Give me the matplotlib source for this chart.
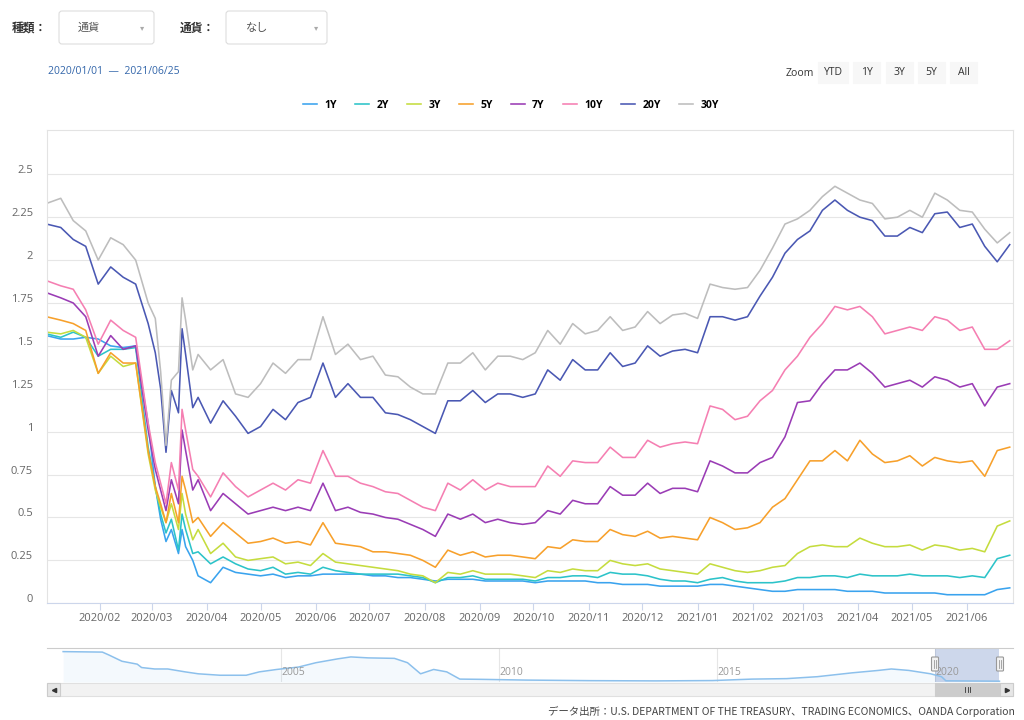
import pandas as pd
import matplotlib
matplotlib.use("Agg")
import matplotlib.pyplot as plt
import matplotlib.dates as mdates
from matplotlib.patches import Rectangle, FancyBboxPatch
from matplotlib.transforms import ScaledTranslation

plt.rcParams['font.family'] = ['Open Sans', 'Noto Sans CJK JP', 'DejaVu Sans']

# ---- data ----
# Jan-Mar 2020 a bit denser because of the March crash, then weekly Fridays
early_dates = ['2020-01-02', '2020-01-10', '2020-01-17', '2020-01-24', '2020-01-31',
               '2020-02-07', '2020-02-14', '2020-02-21', '2020-02-28', '2020-03-03',
               '2020-03-06', '2020-03-09', '2020-03-12', '2020-03-16', '2020-03-18',
               '2020-03-20', '2020-03-24', '2020-03-27']
dates = pd.to_datetime(early_dates).append(pd.date_range('2020-04-03', '2021-06-25', freq='W-FRI'))

y30 = [2.33, 2.36, 2.23, 2.17, 2.00, 2.13, 2.09, 2.00, 1.75, 1.66, 1.35, 0.92, 1.30, 1.35, 1.78, 1.65, 1.36, 1.45,
       1.36, 1.42, 1.22, 1.20, 1.28, 1.40, 1.34, 1.42, 1.42, 1.67, 1.45, 1.51, 1.42, 1.44, 1.33, 1.32, 1.26, 1.22,
       1.22, 1.40, 1.40, 1.46, 1.36, 1.44, 1.44, 1.42, 1.46, 1.59, 1.51, 1.63, 1.57, 1.59, 1.67, 1.59, 1.61, 1.70,
       1.63, 1.68, 1.69,
       1.66, 1.86, 1.84, 1.83, 1.84, 1.94, 2.07, 2.21, 2.24, 2.29, 2.37, 2.43, 2.39, 2.35, 2.33, 2.24, 2.25, 2.29,
       2.25, 2.39, 2.35, 2.29, 2.28, 2.18, 2.10, 2.16]
y20 = [2.21, 2.19, 2.12, 2.08, 1.86, 1.96, 1.90, 1.86, 1.63, 1.46, 1.25, 0.88, 1.24, 1.11, 1.60, 1.45, 1.14, 1.20,
       1.05, 1.18, 1.09, 0.99, 1.03, 1.13, 1.07, 1.17, 1.20, 1.40, 1.20, 1.28, 1.20, 1.20, 1.11, 1.10, 1.07, 1.03,
       0.99, 1.18, 1.18, 1.24, 1.17, 1.22, 1.22, 1.20, 1.22, 1.36, 1.30, 1.42, 1.36, 1.36, 1.46, 1.38, 1.40, 1.50,
       1.44, 1.47, 1.48,
       1.46, 1.67, 1.67, 1.65, 1.67, 1.79, 1.90, 2.04, 2.12, 2.17, 2.29, 2.35, 2.29, 2.25, 2.23, 2.14, 2.14, 2.19,
       2.16, 2.27, 2.28, 2.19, 2.21, 2.08, 1.99, 2.09]
y10 = [1.88, 1.85, 1.83, 1.71, 1.51, 1.65, 1.59, 1.55, 1.05, 0.82, 0.70, 0.58, 0.82, 0.66, 1.13, 1.01, 0.78, 0.74,
       0.62, 0.76, 0.68, 0.62, 0.66, 0.70, 0.66, 0.72, 0.70, 0.89, 0.74, 0.74, 0.70, 0.68, 0.65, 0.64, 0.60, 0.56,
       0.54, 0.70, 0.66, 0.72, 0.66, 0.70, 0.68, 0.68, 0.68, 0.80, 0.74, 0.83, 0.82, 0.82, 0.91, 0.85, 0.85, 0.95,
       0.91, 0.93, 0.94,
       0.93, 1.15, 1.13, 1.07, 1.09, 1.18, 1.24, 1.36, 1.44, 1.55, 1.63, 1.73, 1.71, 1.73, 1.67, 1.57, 1.59, 1.61,
       1.59, 1.67, 1.65, 1.59, 1.61, 1.48, 1.48, 1.53]
y7 = [1.81, 1.78, 1.75, 1.67, 1.44, 1.56, 1.48, 1.50, 1.01, 0.78, 0.66, 0.54, 0.72, 0.58, 1.01, 0.89, 0.66, 0.72,
      0.54, 0.64, 0.58, 0.52, 0.54, 0.56, 0.54, 0.56, 0.54, 0.70, 0.54, 0.56, 0.53, 0.52, 0.50, 0.49, 0.46, 0.43,
      0.39, 0.52, 0.49, 0.52, 0.47, 0.49, 0.47, 0.46, 0.47, 0.54, 0.52, 0.60, 0.58, 0.58, 0.68, 0.63, 0.63, 0.70,
      0.64, 0.67, 0.67,
      0.65, 0.83, 0.80, 0.76, 0.76, 0.82, 0.85, 0.97, 1.17, 1.18, 1.28, 1.36, 1.36, 1.40, 1.34, 1.26, 1.28, 1.30,
      1.26, 1.32, 1.30, 1.26, 1.28, 1.15, 1.26, 1.28]
y5 = [1.67, 1.65, 1.63, 1.59, 1.34, 1.46, 1.40, 1.40, 0.89, 0.68, 0.58, 0.47, 0.64, 0.47, 0.74, 0.66, 0.47, 0.50,
      0.39, 0.47, 0.41, 0.35, 0.36, 0.38, 0.35, 0.36, 0.34, 0.47, 0.35, 0.34, 0.33, 0.30, 0.30, 0.29, 0.28, 0.25,
      0.21, 0.31, 0.28, 0.30, 0.27, 0.28, 0.28, 0.27, 0.26, 0.33, 0.32, 0.37, 0.36, 0.36, 0.43, 0.40, 0.39, 0.42,
      0.38, 0.39, 0.38,
      0.37, 0.50, 0.47, 0.43, 0.44, 0.47, 0.56, 0.61, 0.72, 0.83, 0.83, 0.89, 0.83, 0.95, 0.87, 0.82, 0.83, 0.86,
      0.80, 0.85, 0.83, 0.82, 0.83, 0.74, 0.89, 0.91]
y3 = [1.58, 1.57, 1.59, 1.55, 1.34, 1.44, 1.38, 1.40, 0.87, 0.66, 0.56, 0.47, 0.58, 0.43, 0.64, 0.52, 0.37, 0.43,
      0.29, 0.35, 0.27, 0.25, 0.26, 0.27, 0.23, 0.24, 0.22, 0.29, 0.24, 0.23, 0.22, 0.21, 0.20, 0.19, 0.17, 0.16,
      0.12, 0.18, 0.17, 0.19, 0.17, 0.17, 0.17, 0.16, 0.15, 0.19, 0.18, 0.20, 0.19, 0.19, 0.25, 0.23, 0.22, 0.23,
      0.20, 0.19, 0.18,
      0.17, 0.23, 0.21, 0.19, 0.18, 0.19, 0.21, 0.22, 0.29, 0.33, 0.34, 0.33, 0.33, 0.38, 0.35, 0.33, 0.33, 0.34,
      0.31, 0.34, 0.33, 0.31, 0.32, 0.30, 0.45, 0.48]
y2 = [1.57, 1.55, 1.58, 1.55, 1.44, 1.48, 1.48, 1.49, 0.91, 0.68, 0.52, 0.41, 0.49, 0.31, 0.52, 0.43, 0.29, 0.30,
      0.23, 0.27, 0.23, 0.20, 0.19, 0.21, 0.17, 0.18, 0.17, 0.21, 0.19, 0.18, 0.17, 0.17, 0.17, 0.17, 0.16, 0.15,
      0.12, 0.15, 0.15, 0.16, 0.14, 0.14, 0.14, 0.14, 0.13, 0.15, 0.15, 0.16, 0.16, 0.15, 0.18, 0.17, 0.17, 0.16,
      0.14, 0.13, 0.13,
      0.12, 0.14, 0.15, 0.13, 0.12, 0.12, 0.12, 0.13, 0.15, 0.15, 0.16, 0.16, 0.15, 0.17, 0.16, 0.16, 0.16, 0.17,
      0.16, 0.16, 0.16, 0.15, 0.16, 0.15, 0.26, 0.28]
y1 = [1.56, 1.54, 1.54, 1.55, 1.54, 1.50, 1.49, 1.50, 1.05, 0.68, 0.49, 0.36, 0.43, 0.29, 0.43, 0.33, 0.25, 0.16,
      0.12, 0.21, 0.18, 0.17, 0.16, 0.17, 0.15, 0.16, 0.16, 0.17, 0.17, 0.17, 0.17, 0.16, 0.16, 0.15, 0.15, 0.14,
      0.13, 0.14, 0.14, 0.14, 0.13, 0.13, 0.13, 0.13, 0.12, 0.13, 0.13, 0.13, 0.13, 0.12, 0.12, 0.11, 0.11, 0.11,
      0.10, 0.10, 0.10,
      0.10, 0.11, 0.11, 0.10, 0.09, 0.08, 0.07, 0.07, 0.08, 0.08, 0.08, 0.08, 0.07, 0.07, 0.07, 0.06, 0.06, 0.06,
      0.06, 0.06, 0.05, 0.05, 0.05, 0.05, 0.08, 0.09]

names = ['1Y', '2Y', '3Y', '5Y', '7Y', '10Y', '20Y', '30Y']
series = [y1, y2, y3, y5, y7, y10, y20, y30]
colors = ['#3aa3ee', '#2cc3c9', '#c5dc3e', '#f7a02b', '#9a3cb5', '#f57fb2', '#4a58b3', '#bdbdbd']

# navigator (long history of 1Y)
nav_years = [2000.0, 2000.9, 2001.05, 2001.35, 2001.7, 2001.8, 2002.1, 2002.4, 2002.8, 2003.1, 2003.6,
             2004.2, 2004.5, 2004.9, 2005.4, 2005.8, 2006.3, 2006.6, 2007.0, 2007.6, 2007.9, 2008.2,
             2008.5, 2008.8, 2009.1, 2009.6, 2010.6, 2012.1, 2013.6, 2014.9, 2015.8, 2016.6, 2017.3,
             2018.1, 2018.7, 2019.0, 2019.4, 2019.9, 2020.15, 2020.25, 2021.48]
nav_1y = [6.2, 6.1, 5.5, 4.2, 3.6, 2.9, 2.6, 2.6, 2.0, 1.6, 1.3,
          1.3, 2.0, 2.5, 3.0, 3.9, 4.7, 5.1, 4.9, 4.8, 3.9, 1.6,
          2.5, 2.0, 0.5, 0.45, 0.3, 0.18, 0.13, 0.2, 0.5, 0.6, 1.0,
          1.8, 2.3, 2.6, 2.3, 1.6, 1.0, 0.15, 0.07]
nav_ticks = [2005, 2010, 2015, 2020]

W, H = 1024, 720
fig = plt.figure(figsize=(W / 100, H / 100), dpi=100)
fig.patch.set_facecolor('white')


def px_box(x0, y0, x1, y1):
    return [x0 / W, 1 - y1 / H, (x1 - x0) / W, (y1 - y0) / H]


# ---- main chart ----
ax = fig.add_axes(px_box(47, 130, 1013, 603.3))
handles = []
for name, vals, c in zip(names, series, colors):
    ln, = ax.plot(dates, vals, color=c, lw=1.15, label=name)
    handles.append(ln)

ax.set_xlim(pd.Timestamp('2020-01-02 07:00'), pd.Timestamp('2021-06-26 20:00'))
ax.set_ylim(0, 2.758)
yt = [0, 0.25, 0.5, 0.75, 1, 1.25, 1.5, 1.75, 2, 2.25, 2.5]
ax.set_yticks(yt)
ax.set_yticklabels(['0', '0.25', '0.5', '0.75', '1', '1.25', '1.5', '1.75', '2', '2.25', '2.5'])
ax.yaxis.grid(True, color='#e6e6e6', lw=0.8)
ax.set_axisbelow(True)
ax.xaxis.set_major_locator(mdates.MonthLocator())
ax.xaxis.set_major_formatter(mdates.DateFormatter('%Y/%m'))
ax.tick_params(axis='y', length=0, pad=10, labelsize=8, labelcolor='#666666')
ax.tick_params(axis='x', length=5, width=0.8, color='#ccd6eb', pad=2, labelsize=8, labelcolor='#666666')
for lab in ax.get_yticklabels():
    lab.set_transform(lab.get_transform() + ScaledTranslation(0, 0.05, fig.dpi_scale_trans))
for side in ['left', 'top', 'right']:
    ax.spines[side].set_color('#e3e3e3')
    ax.spines[side].set_linewidth(0.8)
ax.spines['bottom'].set_color('#ccd6eb')

fig.legend(handles, names, loc='center', bbox_to_anchor=(511 / W, 1 - 105 / H), ncol=8,
           frameon=False, handlelength=1.3, handletextpad=0.7, columnspacing=1.8,
           prop={'weight': 'bold', 'size': 7.5})

# ---- navigator ----
nav = fig.add_axes(px_box(47, 648, 1013, 682))
nav.plot(nav_years, nav_1y, color='#8cc0ec', lw=1.1)
nav.fill_between(nav_years, nav_1y, -0.1, color='#7cb5ec', alpha=0.08, lw=0)
nav.set_xlim(1999.63, 2021.79)
nav.set_ylim(-0.1, 6.95)
nav.axvspan(2020.0, 2021.48, color='#6685c2', alpha=0.32, lw=0)
for yr in nav_ticks:
    nav.axvline(yr, color='#e6e6e6', lw=0.8, zorder=0)
    nav.text(yr, 0.12, str(yr), transform=nav.get_xaxis_transform(), fontsize=7.5, color='#999999',
             ha='left', va='bottom')
nav.set_xticks([])
nav.set_yticks([])
for side in ['left', 'right', 'bottom']:
    nav.spines[side].set_visible(False)
nav.spines['top'].set_color('#cccccc')

# ---- page furniture (pixel coordinates) ----
ov = fig.add_axes([0, 0, 1, 1])
ov.set_xlim(0, W)
ov.set_ylim(H, 0)
ov.axis('off')
ov.patch.set_alpha(0)


def box(x, y, w, h, fc, ec, r=0):
    if r:
        p = FancyBboxPatch((x, y), w, h, boxstyle='round,pad=0,rounding_size=%g' % r, fc=fc, ec=ec, lw=0.8)
    else:
        p = Rectangle((x, y), w, h, fc=fc, ec=ec, lw=0.8)
    ov.add_patch(p)


ov.text(12, 28, '種類：', fontsize=8.5, weight='bold', color='#333333', va='center')
box(59, 11, 95, 33, 'white', '#dddddd', 3)
ov.text(78, 28, '通貨', fontsize=8, color='#555555', va='center')
ov.text(140, 28, '▾', fontsize=6, color='#aaaaaa', va='center', family='DejaVu Sans')
ov.text(180, 28, '通貨：', fontsize=8.5, weight='bold', color='#333333', va='center')
box(226, 11, 101, 33, 'white', '#dddddd', 3)
ov.text(246, 28, 'なし', fontsize=8, color='#555555', va='center')
ov.text(314, 28, '▾', fontsize=6, color='#aaaaaa', va='center', family='DejaVu Sans')

ov.text(48, 72, '2020/01/01  —  2021/06/25', fontsize=7.5, color='#3366aa', va='center')

ov.text(786, 73, 'Zoom', fontsize=7.5, color='#333333', va='center')
zoom_btns = [('YTD', 818, 30), ('1Y', 853, 27), ('3Y', 886, 27), ('5Y', 918, 27), ('All', 950, 27)]
for lbl, bx, bw in zoom_btns:
    box(bx, 62, bw, 21, '#f7f7f7', '#f7f7f7')
    ov.text(bx + bw / 2, 72.5, lbl, fontsize=7.5, color='#333333', ha='center', va='center')

# scrollbar under the navigator
box(47, 683, 966, 13, '#f2f2f2', '#e0e0e0')
box(935, 683, 65, 13, '#cccccc', '#cccccc')
box(47, 683, 13, 13, '#e6e6e6', '#cccccc')
box(1000, 683, 13, 13, '#e6e6e6', '#cccccc')
ov.plot([53.5], [689.5], marker='<', ms=3, color='#333333')
ov.plot([1006.5], [689.5], marker='>', ms=3, color='#333333')
for gx in (965, 967.5, 970):
    ov.plot([gx, gx], [687, 692], color='#333333', lw=0.6)
# navigator handles
for hx in (935, 1000):
    box(hx - 3.5, 657, 7, 14, '#f2f2f2', '#999999', 1)
    ov.plot([hx - 1, hx - 1], [660, 668], color='#999999', lw=0.6)
    ov.plot([hx + 1, hx + 1], [660, 668], color='#999999', lw=0.6)

ov.text(1015, 711, 'データ出所：U.S. DEPARTMENT OF THE TREASURY、TRADING ECONOMICS、OANDA Corporation',
        fontsize=7.5, color='#444444', ha='right', va='center',
        family=['Liberation Sans Narrow', 'Noto Sans CJK JP', 'DejaVu Sans'])

fig.savefig('out.png', dpi=100, facecolor='white')
